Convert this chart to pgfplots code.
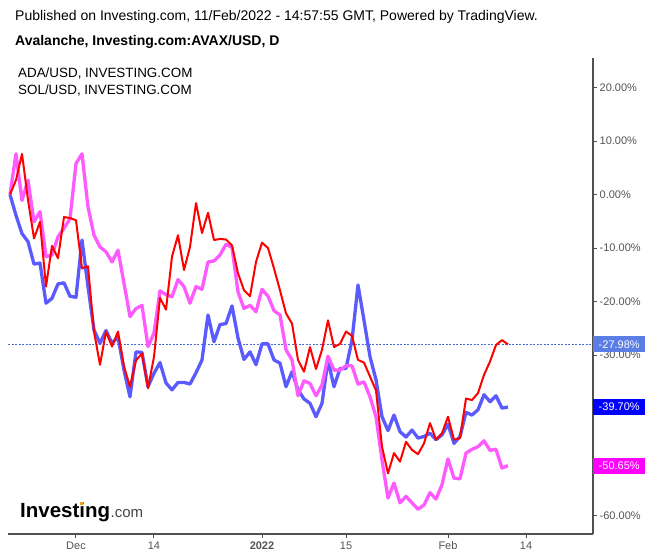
\documentclass[border=0pt]{standalone}
\usepackage{pgfplots}
\pgfplotsset{compat=1.18}
\usepackage{pgfplotstable}
\usepackage{fontspec}
\setmainfont{Liberation Sans}
\definecolor{axisgray}{HTML}{505050}
\definecolor{labelgray}{HTML}{555555}
\definecolor{adaline}{HTML}{5A5AFF}
\definecolor{solline}{HTML}{FF5AFF}
\definecolor{avaxline}{HTML}{FF0000}
\definecolor{pricebox}{HTML}{5A7DE6}
\definecolor{priceline}{HTML}{4A6AD8}
\definecolor{adabox}{HTML}{0000FF}
\definecolor{solbox}{HTML}{FF00FF}
\definecolor{logoorange}{HTML}{F7A21B}
\definecolor{comgray}{HTML}{444444}

\pgfplotstableread{
d avax ada sol
-11 0 0 0
-10 2.7 -3.9 7.6
-9 7.6 -7.3 -1.1
-8 -1.0 -8.8 2.7
-7 -8.2 -13.0 -5.1
-6 -5.1 -12.8 -3.2
-5 -17.2 -20.3 -11.6
-4 -9.6 -19.4 -11.3
-3 -11.9 -16.7 -7.9
-2 -4.2 -16.5 -6.3
-1 -4.4 -19.0 -4.5
0 -4.8 -19.2 5.8
1 -13.8 -8.5 7.6
2 -13.4 -17.2 -2.3
3 -25.6 -25.3 -7.6
4 -31.8 -27.8 -9.8
5 -25.6 -25.4 -10.7
6 -28.4 -27.8 -12.6
7 -25.6 -26.6 -10.4
8 -32.1 -32.8 -16.6
9 -35.9 -37.8 -22.8
10 -31.0 -29.4 -21.3
11 -29.7 -29.5 -20.7
12 -36.2 -35.9 -28.4
13 -30.3 -33.4 -25.9
14 -19.3 -31.4 -18.0
15 -21.5 -35.2 -18.7
16 -11.6 -36.5 -19.1
17 -7.6 -35.1 -15.9
18 -14.1 -35.1 -17.2
19 -9.8 -35.4 -20.3
20 -1.6 -33.3 -17.2
21 -7.2 -30.9 -17.7
22 -3.4 -22.5 -12.6
23 -8.5 -27.5 -12.4
24 -8.3 -24.3 -11.3
25 -8.4 -24.1 -9.3
26 -9.5 -20.8 -9.9
27 -14.7 -26.8 -18.2
28 -17.9 -30.8 -21.3
29 -19.0 -29.4 -20.7
30 -12.6 -31.8 -21.9
31 -9.0 -27.9 -17.7
32 -10.0 -27.9 -19.0
33 -13.8 -30.9 -21.7
34 -17.9 -31.5 -22.5
35 -22.2 -35.9 -29.0
36 -24.1 -33.1 -30.9
37 -30.9 -36.5 -37.6
38 -33.1 -38.2 -34.8
39 -28.5 -39.0 -35.3
40 -32.6 -41.5 -37.6
41 -29.0 -39.0 -35.6
42 -23.5 -31.0 -30.2
43 -28.5 -35.9 -32.8
44 -27.9 -32.5 -32.8
45 -25.6 -32.5 -32.0
46 -26.4 -27.2 -32.0
47 -30.9 -16.9 -35.4
48 -31.4 -23.5 -35.0
49 -34.0 -30.3 -37.8
50 -36.6 -34.6 -41.5
51 -47.1 -41.5 -49.6
52 -52.1 -44.1 -56.7
53 -48.3 -41.2 -53.9
54 -49.9 -44.3 -57.6
55 -46.2 -45.3 -56.4
56 -47.7 -44.0 -57.6
57 -48.5 -45.5 -58.8
58 -46.5 -45.2 -58.0
59 -42.7 -44.6 -55.7
60 -45.8 -45.8 -56.9
61 -44.6 -44.9 -54.2
62 -41.5 -42.9 -49.4
63 -45.8 -46.5 -53.0
64 -45.5 -45.2 -53.1
65 -38.1 -40.7 -48.3
66 -38.4 -41.2 -47.6
67 -37.1 -40.2 -47.1
68 -33.7 -37.4 -46.0
69 -31.2 -38.7 -47.8
70 -28.1 -37.6 -47.6
71 -27.2 -39.9 -51.1
72 -27.98 -39.70 -50.65
}\datatable

\begin{document}
\begin{tikzpicture}
\useasboundingbox (0,0) rectangle (652bp,558bp);
\fill[white] (0,0) rectangle (652bp,558bp);

% header
\node[anchor=base west, inner sep=0pt, font=\fontsize{14bp}{16bp}\selectfont] at (15bp,537bp)
  {Published on Investing.com, 11/Feb/2022 - 14:57:55 GMT, Powered by TradingView.};
\node[anchor=base west, inner sep=0pt, font=\fontsize{14bp}{16bp}\selectfont\bfseries] at (15bp,512bp)
  {Avalanche, Investing.com:AVAX/USD, D};

\begin{axis}[
  at={(8bp,24bp)}, anchor=south west,
  scale only axis, width=585bp, height=476bp,
  xmin=-11.333, xmax=86.167, ymin=-63.42, ymax=25.51,
  axis x line*=bottom, axis y line*=right,
  axis line style={draw=axisgray, line width=1.3bp, -},
  tick align=outside, major tick length=4bp,
  tick style={draw=axisgray, line width=1bp},
  xtick={0,13,31,45,62,75},
  xticklabels={Dec,14,\textbf{2022},15,Feb,14},
  ytick={-60,-30,-20,-10,0,10,20},
  yticklabels={-60.00\%,-30.00\%,-20.00\%,-10.00\%,0.00\%,10.00\%,20.00\%},
  extra y ticks={-50,-40},
  extra y tick labels={},
  ticklabel style={font=\fontsize{11bp}{13bp}\selectfont, text=labelgray, inner sep=0pt},
  yticklabel style={anchor=west, xshift=2.5bp},
  xticklabel style={anchor=north, yshift=-3.5bp},
  clip=false,
]
\addplot[priceline, line width=0.8bp, dash pattern=on 2bp off 1.5bp] coordinates {(-11.333,-27.98) (86.167,-27.98)};
\addplot[adaline, line width=3.3bp, line join=round] table[x=d, y=ada] {\datatable};
\addplot[solline, line width=3.3bp, line join=round] table[x=d, y=sol] {\datatable};
\addplot[avaxline, line width=2bp, line join=round] table[x=d, y=avax] {\datatable};
\coordinate (pA) at (axis cs:86.167,-27.98);
\coordinate (pB) at (axis cs:86.167,-39.70);
\coordinate (pC) at (axis cs:86.167,-50.65);
\end{axis}

% last-value boxes
\node[anchor=west, fill=pricebox, text=white, minimum width=52bp, minimum height=16bp, inner sep=0pt, font=\fontsize{11bp}{13bp}\selectfont] at (pA) {-27.98\%};
\node[anchor=west, fill=adabox, text=white, minimum width=52bp, minimum height=16bp, inner sep=0pt, font=\fontsize{11bp}{13bp}\selectfont] at (pB) {-39.70\%};
\node[anchor=west, fill=solbox, text=white, minimum width=52bp, minimum height=16bp, inner sep=0pt, font=\fontsize{11bp}{13bp}\selectfont] at (pC) {-50.65\%};

% legend text
\node[anchor=base west, inner sep=0pt, font=\fontsize{13.4bp}{15bp}\selectfont] at (18bp,480bp) {ADA/USD, INVESTING.COM};
\node[anchor=base west, inner sep=0pt, font=\fontsize{13.4bp}{15bp}\selectfont] at (18bp,463.5bp) {SOL/USD, INVESTING.COM};

% logo
\node[anchor=base west, inner sep=0pt, font=\fontsize{20.5bp}{22bp}\selectfont\bfseries, text=black] (logo) at (20bp,40.7bp) {Investing};
\node[anchor=base west, inner sep=0pt, font=\fontsize{15bp}{17bp}\selectfont, text=comgray] at (logo.base east) {.com};
\fill[logoorange] (80.2bp,53bp) rectangle (83.4bp,56.2bp);
\end{tikzpicture}
\end{document}
